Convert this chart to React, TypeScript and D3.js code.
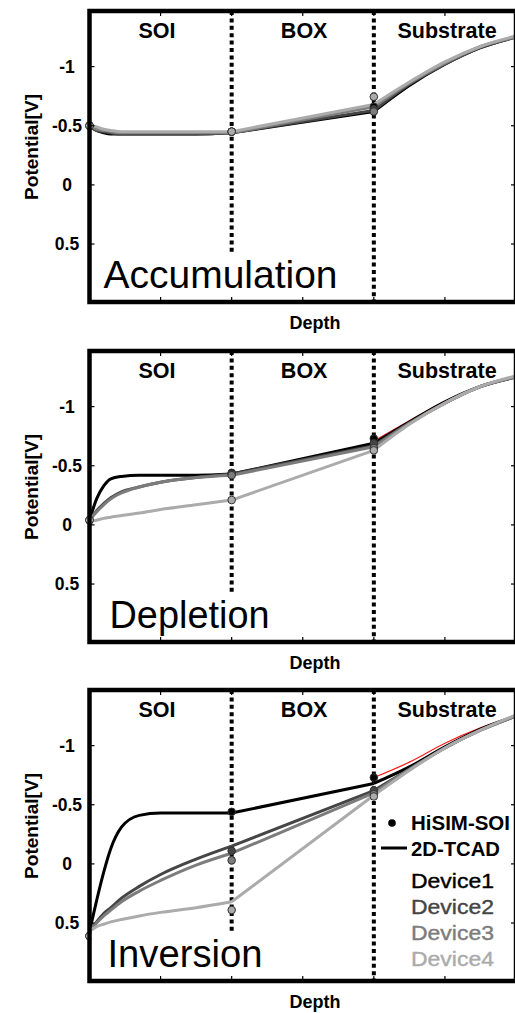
import React from 'react';
import * as d3 from 'd3';

// ---------- data ----------
const X_SOI = [0, 0.1, 0.2, 0.3, 0.45, 0.7, 1, 1.5, 2];
const X_BOX = [2, 4];
const X_SUB = [4, 4.5, 5, 5.5, 6];
const X_MARK = [0, 2, 4];

const DEVICES = ['Device1', 'Device2', 'Device3', 'Device4'];
const DEVICE_COLORS = ['#000000', '#454545', '#7c7c7c', '#ababab'];

const Y_TICKS = [-1, -0.5, 0, 0.5];
const Y_TICK_LABELS = ['-1', '-0.5', '0', '0.5'];
const X_TICKS = [1, 2, 3, 4, 5];
const REGIONS = ['SOI', 'BOX', 'Substrate'];
const REGION_CENTERS = [0.95, 3.02, 5.03];
const PANEL_TITLES = ['Accumulation', 'Depletion', 'Inversion'];

// Accumulation
const accSOI = [
  [-0.50, -0.46, -0.44, -0.43, -0.43, -0.43, -0.43, -0.43, -0.44],
  [-0.50, -0.46, -0.45, -0.44, -0.43, -0.43, -0.43, -0.43, -0.44],
  [-0.51, -0.47, -0.46, -0.45, -0.44, -0.44, -0.44, -0.44, -0.44],
  [-0.51, -0.49, -0.47, -0.46, -0.45, -0.45, -0.45, -0.45, -0.45],
];
const accBOX = [
  [-0.44, -0.62],
  [-0.44, -0.63],
  [-0.44, -0.66],
  [-0.45, -0.68],
];
const accSUB = [
  [-0.62, -0.84, -1.02, -1.16, -1.25],
  [-0.63, -0.85, -1.02, -1.16, -1.25],
  [-0.66, -0.86, -1.03, -1.17, -1.25],
  [-0.68, -0.87, -1.04, -1.17, -1.26],
];
const accMarks = [
  [-0.50, -0.45, -0.66],
  [-0.50, -0.45, -0.64],
  [-0.50, -0.45, -0.62],
  [-0.50, -0.45, -0.745],
];

// Depletion
const depSOI = [
  [-0.04, -0.22, -0.33, -0.39, -0.41, -0.42, -0.42, -0.42, -0.43],
  [-0.04, -0.12, -0.18, -0.23, -0.28, -0.32, -0.36, -0.40, -0.43],
  [-0.04, -0.11, -0.17, -0.22, -0.27, -0.32, -0.36, -0.40, -0.42],
  [-0.03, -0.04, -0.055, -0.065, -0.08, -0.10, -0.13, -0.17, -0.21],
];
const depBOX = [
  [-0.43, -0.69],
  [-0.43, -0.67],
  [-0.42, -0.66],
  [-0.21, -0.63],
];
const depSUB = [
  [-0.69, -0.87, -1.04, -1.17, -1.25],
  [-0.67, -0.86, -1.03, -1.17, -1.25],
  [-0.66, -0.86, -1.03, -1.17, -1.25],
  [-0.63, -0.85, -1.03, -1.17, -1.26],
];
const depMarks = [
  [-0.04, -0.44, -0.73],
  [-0.04, -0.43, -0.69],
  [-0.04, -0.42, -0.65],
  [-0.04, -0.21, -0.63],
];
const depRed = [-0.71, -0.88, -1.045, -1.17, -1.25];

// Inversion
const invSOI = [
  [0.57, 0.31, 0.07, -0.13, -0.31, -0.41, -0.43, -0.43, -0.43],
  [0.57, 0.49, 0.42, 0.37, 0.29, 0.19, 0.09, -0.04, -0.15],
  [0.57, 0.50, 0.44, 0.39, 0.32, 0.23, 0.14, 0.01, -0.09],
  [0.57, 0.53, 0.51, 0.49, 0.47, 0.44, 0.41, 0.37, 0.32],
];
const invBOX = [
  [-0.43, -0.68],
  [-0.15, -0.62],
  [-0.09, -0.60],
  [0.32, -0.58],
];
const invSUB = [
  [-0.68, -0.82, -0.99, -1.14, -1.25],
  [-0.62, -0.80, -0.98, -1.13, -1.25],
  [-0.60, -0.80, -0.98, -1.13, -1.25],
  [-0.58, -0.79, -0.98, -1.13, -1.26],
];
const invMarks = [
  [0.61, -0.44, -0.73],
  [0.61, -0.11, -0.62],
  [0.61, -0.03, -0.59],
  [0.61, 0.39, -0.57],
];
const invRed = [-0.73, -0.86, -1.02, -1.15, -1.25];

const PANEL_DATA = [
  { soi: accSOI, box: accBOX, sub: accSUB, marks: accMarks, red: null as number[] | null },
  { soi: depSOI, box: depBOX, sub: depSUB, marks: depMarks, red: depRed },
  { soi: invSOI, box: invBOX, sub: invSUB, marks: invMarks, red: invRed },
];

const LEGEND_ITEMS = ['HiSIM-SOI', '2D-TCAD'];

// ---------- layout ----------
const W = 515;
const H = 1013;
const LEFT = 89.5;
const RIGHT = 516;
const PANEL_OFFSETS = [11, 351, 690];
const PANEL_H = 291;
const FONT = 'Liberation Sans, Arial, Helvetica, sans-serif';
const TITLE_WIDTHS = [234, 160, 155];

const x = d3.scaleLinear().domain([0, 6]).range([LEFT, RIGHT]);

function Panel({ idx }: { idx: number }) {
  const top = PANEL_OFFSETS[idx];
  const bottom = top + PANEL_H;
  const y = d3.scaleLinear().domain([-1.47, 0.99]).range([top, bottom]);
  const d = PANEL_DATA[idx];
  const smooth = d3
    .line<[number, number]>()
    .x((p) => x(p[0]))
    .y((p) => y(p[1]))
    .curve(d3.curveMonotoneX);
  const straight = d3
    .line<[number, number]>()
    .x((p) => x(p[0]))
    .y((p) => y(p[1]));
  const zip = (xs: number[], vs: number[]) => xs.map((v, i) => [v, vs[i]] as [number, number]);
  const titleBase = top + 277;
  const tw = TITLE_WIDTHS[idx];

  return (
    <g>
      {[2, 4].map((v) => (
        <line
          key={v}
          x1={x(v)}
          x2={x(v)}
          y1={top}
          y2={bottom}
          stroke="#000"
          strokeWidth={4}
          strokeDasharray="4 3.4"
        />
      ))}
      {d.red && (
        <path d={smooth(zip(X_SUB, d.red)) || ''} fill="none" stroke="#ff1a1a" strokeWidth={1.2} />
      )}
      {DEVICES.map((name, i) => (
        <g key={name} fill="none" stroke={DEVICE_COLORS[i]} strokeWidth={3} strokeLinejoin="round">
          <path d={smooth(zip(X_SOI, d.soi[i])) || ''} />
          <path d={straight(zip(X_BOX, d.box[i])) || ''} />
          <path d={smooth(zip(X_SUB, d.sub[i])) || ''} />
        </g>
      ))}
      {DEVICES.map((name, i) =>
        X_MARK.map((xv, j) => (
          <circle
            key={name + j}
            cx={x(xv)}
            cy={y(d.marks[i][j])}
            r={3.8}
            fill={j === 0 ? '#e8e8e8' : DEVICE_COLORS[i]}
            stroke="#333"
            strokeWidth={1}
          />
        ))
      )}
      {REGIONS.map((r, i) => (
        <text
          key={r}
          x={x(REGION_CENTERS[i])}
          y={top + 27}
          textAnchor="middle"
          fontFamily={FONT}
          fontWeight="bold"
          fontSize={21.5}
        >
          {r}
        </text>
      ))}
      <rect x={LEFT + 2} y={titleBase - 35} width={tw + 18} height={bottom - titleBase + 33} fill="#fff" />
      <text
        x={LEFT + 14 + (idx === 0 ? 0 : idx === 1 ? 6 : 4)}
        y={titleBase}
        fontFamily={FONT}
        fontSize={39}
        textLength={tw}
        lengthAdjust="spacingAndGlyphs"
      >
        {PANEL_TITLES[idx]}
      </text>
      {Y_TICKS.map((t) => (
        <g key={'y' + t} stroke="#000" strokeWidth={1.2}>
          <line x1={LEFT} x2={LEFT + 5} y1={y(t)} y2={y(t)} />
          <line x1={RIGHT - 5} x2={RIGHT} y1={y(t)} y2={y(t)} />
        </g>
      ))}
      {X_TICKS.map((t) => (
        <g key={'x' + t} stroke="#000" strokeWidth={1.2}>
          <line x1={x(t)} x2={x(t)} y1={top} y2={top + 5} />
          <line x1={x(t)} x2={x(t)} y1={bottom - 5} y2={bottom} />
        </g>
      ))}
      <rect x={LEFT} y={top} width={RIGHT - LEFT} height={PANEL_H} fill="none" stroke="#000" strokeWidth={4.5} />
      {Y_TICKS.map((t, i) => (
        <text
          key={'yl' + t}
          x={67}
          y={y(t) + 6}
          textAnchor="middle"
          fontFamily={FONT}
          fontWeight="bold"
          fontSize={17.5}
        >
          {Y_TICK_LABELS[i]}
        </text>
      ))}
      <text
        transform={`translate(38, ${top + 136}) rotate(-90)`}
        textAnchor="middle"
        fontFamily={FONT}
        fontWeight="bold"
        fontSize={18}
        textLength={106}
        lengthAdjust="spacingAndGlyphs"
      >
        Potential[V]
      </text>
      <text
        x={315}
        y={top + 318}
        textAnchor="middle"
        fontFamily={FONT}
        fontWeight="bold"
        fontSize={18}
      >
        Depth
      </text>
    </g>
  );
}

function Legend() {
  const top = PANEL_OFFSETS[2];
  return (
    <g fontFamily={FONT}>
      <circle cx={392} cy={top + 133} r={3.8} fill="#000" />
      <text x={411} y={top + 140} fontWeight="bold" fontSize={19.5} textLength={99} lengthAdjust="spacingAndGlyphs">
        {LEGEND_ITEMS[0]}
      </text>
      <line x1={381} x2={407} y1={top + 158} y2={top + 158} stroke="#000" strokeWidth={3} />
      <text x={411} y={top + 166} fontWeight="bold" fontSize={19.5} textLength={89} lengthAdjust="spacingAndGlyphs">
        {LEGEND_ITEMS[1]}
      </text>
      {DEVICES.map((dname, i) => (
        <text
          key={dname}
          x={411}
          y={top + 198 + i * 26}
          fontSize={21}
          fill={DEVICE_COLORS[i]}
          stroke={DEVICE_COLORS[i]}
          strokeWidth={0.4}
          textLength={83}
          lengthAdjust="spacingAndGlyphs"
        >
          {dname}
        </text>
      ))}
    </g>
  );
}

export default function App() {
  return (
    <svg
      width={W}
      height={H}
      viewBox={`0 0 ${W} ${H}`}
      style={{ position: 'absolute', left: 0, top: 0, background: '#fff' }}
    >
      <rect x={0} y={0} width={W} height={H} fill="#fff" />
      {PANEL_TITLES.map((_, i) => (
        <Panel key={i} idx={i} />
      ))}
      <Legend />
    </svg>
  );
}
